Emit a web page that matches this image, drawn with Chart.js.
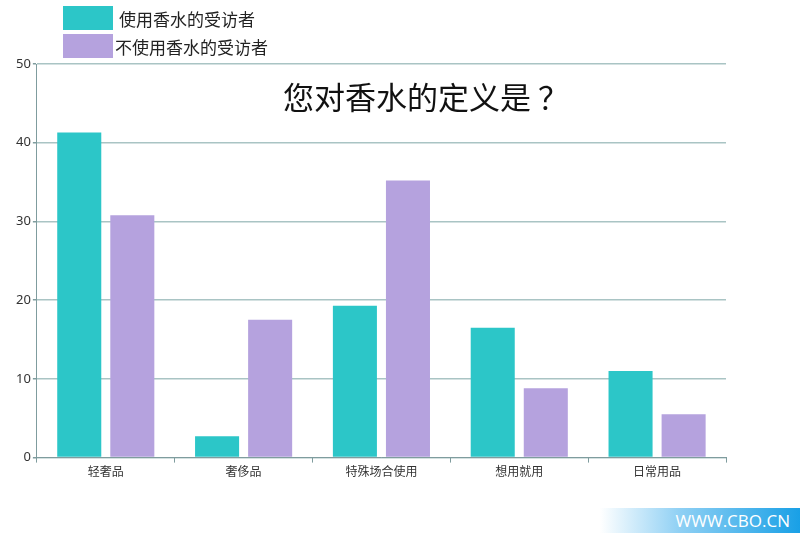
<!DOCTYPE html>
<html>
<head>
<meta charset="utf-8">
<script src="https://cdn.jsdelivr.net/npm/chart.js@4/dist/chart.umd.min.js"></script>
<style>
  body { margin: 0; background: #fff; font-family: "Noto Sans CJK SC", "Noto Sans", sans-serif; }
  #wrap { position: relative; width: 800px; height: 533px; }
  .legend { position: absolute; left: 63px; font-size: 17px; color: #222; display: flex; align-items: center; height: 24px; }
  .legend span.box { display: inline-block; width: 50px; height: 24px; }
  #mark { position: absolute; right: 0; bottom: 0; width: 200px; height: 25px;
    background: linear-gradient(to right, rgba(255,255,255,1) 0%, #8fd0f4 40%, #19a0e6 100%);
    color: #fff; font: 17px "Open Sans", sans-serif; text-align: right; padding-right: 10px; box-sizing: border-box; line-height: 25px; }
</style>
</head>
<body>
<div id="wrap">
  <canvas id="perfume-chart" width="800" height="533"></canvas>
  <div class="legend" style="top:6px"><span class="box" style="background:#2cc6c8;margin-right:6px"></span>使用香水的受访者</div>
  <div class="legend" style="top:34px"><span class="box" style="background:#b5a2de;margin-right:2px"></span>不使用香水的受访者</div>
  <div id="mark">WWW.CBO.CN</div>
</div>
<script>
const categories = ["轻奢品", "奢侈品", "特殊场合使用", "想用就用", "日常用品"]
const users = [41.3, 2.7, 19.3, 16.5, 11.0]
const nonUsers = [30.8, 17.5, 35.2, 8.8, 5.5]
const seriesNames = ["使用香水的受访者", "不使用香水的受访者"]
const chartTitle = "您对香水的定义是 ？"

const tealColor = "#2cc6c8"
const lilacColor = "#b5a2de"

const titlePlugin = {
    id: "innerTitle",
    afterDraw(chart) {
        let ctx = chart.ctx
        ctx.save()
        ctx.font = '31px "Noto Sans CJK SC"'
        ctx.fillStyle = "#111"
        ctx.textAlign = "center"
        ctx.textBaseline = "middle"
        ctx.fillText(chartTitle, 426, 97)
        ctx.restore()
    }
};

(function () {
    'use strict'

    let canvas = document.getElementById("perfume-chart")
    let config = {
        type: "bar",
        data: {
            labels: categories,
            datasets: [
                {
                    label: seriesNames[0],
                    data: users,
                    backgroundColor: tealColor,
                    categoryPercentage: 0.77,
                    barPercentage: 0.83
                },
                {
                    label: seriesNames[1],
                    data: nonUsers,
                    backgroundColor: lilacColor,
                    categoryPercentage: 0.77,
                    barPercentage: 0.83
                }
            ]
        },
        options: {
            responsive: false,
            animation: false,
            layout: {
                padding: { left: 14, right: 74, top: 64, bottom: 52 }
            },
            plugins: {
                legend: { display: false },
                tooltip: { enabled: false }
            },
            scales: {
                y: {
                    min: 0,
                    max: 50,
                    ticks: {
                        stepSize: 10,
                        color: "#333",
                        font: { size: 13, family: "Noto Sans" },
                        padding: 2
                    },
                    grid: {
                        color: "#a9c4c4",
                        lineWidth: 1.5,
                        tickLength: 4,
                        tickColor: "#7f9c9e"
                    },
                    border: { color: "#7f9c9e", width: 1 }
                },
                x: {
                    ticks: {
                        color: "#333",
                        font: { size: 12, family: "Noto Sans CJK SC" },
                        padding: 2
                    },
                    grid: {
                        display: true,
                        drawOnChartArea: false,
                        offset: true,
                        tickLength: 5,
                        color: "#7f9c9e"
                    },
                    border: { color: "#7f9c9e", width: 1 }
                }
            }
        },
        plugins: [titlePlugin]
    }

    let chart = new Chart(canvas, config)
})()
</script>
</body>
</html>
